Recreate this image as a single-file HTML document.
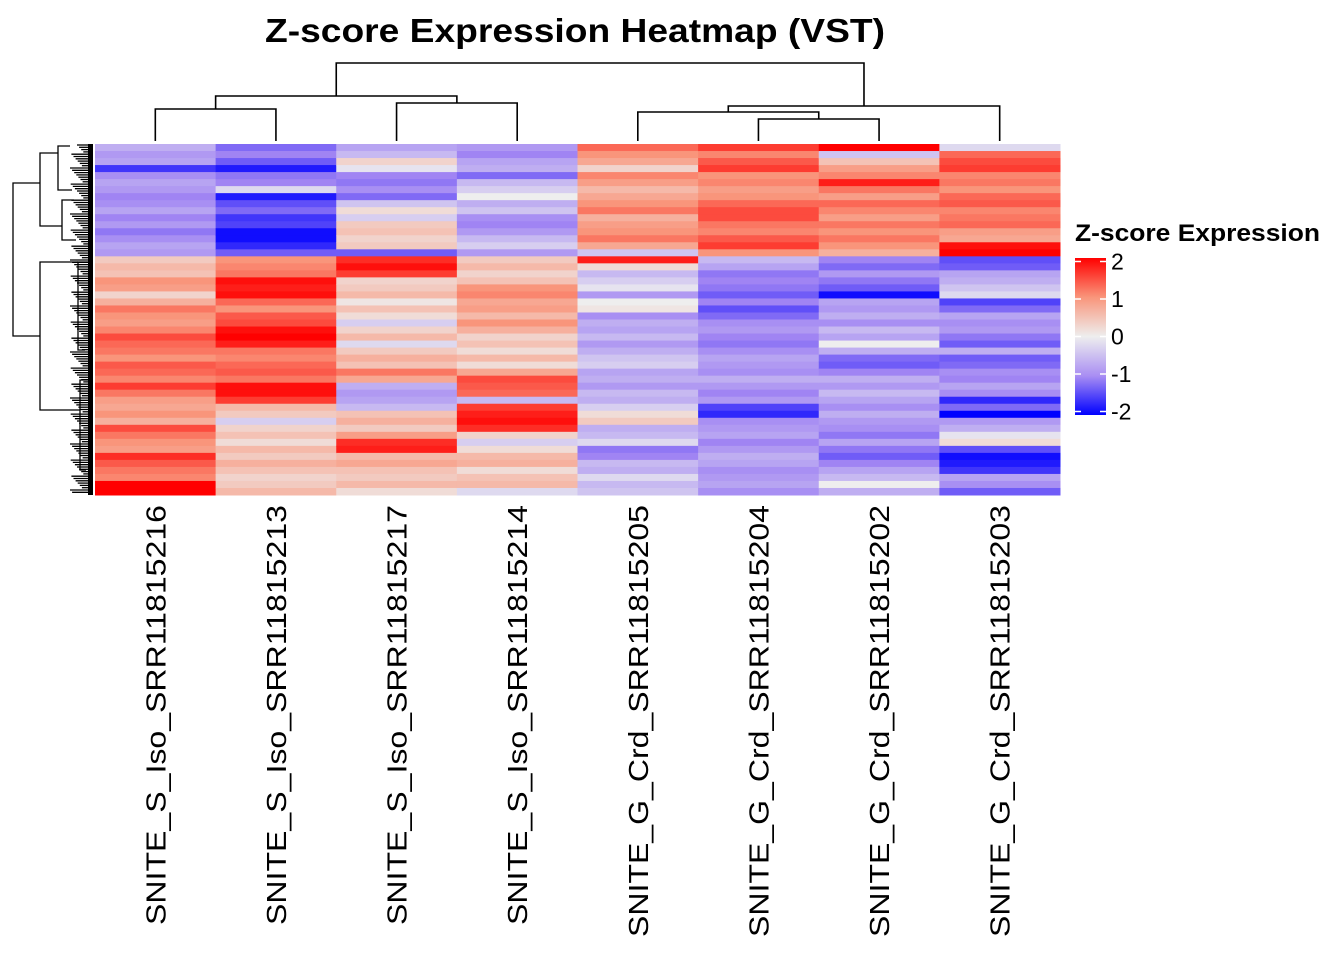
<!DOCTYPE html>
<html><head><meta charset="utf-8"><style>
body{margin:0;background:#fff;}
svg{display:block;font-family:"Liberation Sans",Arial,sans-serif;}
</style></head><body>
<svg id="chart" width="1344" height="960" viewBox="0 0 1344 960" xmlns="http://www.w3.org/2000/svg">
<defs><linearGradient id="lg" x1="0" y1="1" x2="0" y2="0">
<stop offset="0" stop-color="#0000ff"/><stop offset="0.25" stop-color="#a98ef3"/><stop offset="0.5" stop-color="#eeeeee"/><stop offset="0.75" stop-color="#f9957b"/><stop offset="1" stop-color="#ff0000"/></linearGradient></defs>
<text x="265" y="42" font-size="33" font-weight="bold" textLength="620" lengthAdjust="spacingAndGlyphs">Z-score Expression Heatmap (VST)</text>
<g id="cells"></g>
<g id="coldend" stroke="#000" stroke-width="1.6" fill="none"></g>
<g id="rowdend" stroke="#000" stroke-width="1.3" fill="none"></g>
<g id="labels"></g>
<g>
<text x="1075" y="241" font-size="24" font-weight="bold" textLength="245" lengthAdjust="spacingAndGlyphs">Z-score Expression</text>
<rect x="1075" y="258" width="31" height="157" fill="url(#lg)"/>
<g id="legticks"></g>
</g>
</svg>
<script>
const samples=["SNITE_S_Iso_SRR11815216","SNITE_S_Iso_SRR11815213","SNITE_S_Iso_SRR11815217","SNITE_S_Iso_SRR11815214","SNITE_G_Crd_SRR11815205","SNITE_G_Crd_SRR11815204","SNITE_G_Crd_SRR11815202","SNITE_G_Crd_SRR11815203"];
const col216=[-0.6,-0.8,-0.7,-1.6,-0.9,-0.7,-0.8,-1.0,-0.9,-0.7,-1.0,-0.8,-1.1,-0.9,-0.7,-0.8,0.4,0.6,0.5,1.0,0.9,0.3,0.7,1.2,1.0,0.9,1.1,1.5,1.3,1.2,1.0,1.4,1.3,1.1,1.6,1.2,0.9,0.8,1.0,0.7,1.5,1.2,1.0,0.9,1.7,1.4,1.2,1.1,2.0,2.0];
const col213=[-1.2,-1.0,-1.3,-1.8,-1.1,-1.0,-0.2,-1.8,-1.4,-1.2,-1.6,-1.5,-1.9,-1.9,-1.7,-1.3,1.0,1.1,1.2,1.9,1.8,1.9,1.3,1.0,1.4,1.5,1.9,2.0,1.8,1.2,1.1,1.3,1.4,1.2,1.9,1.9,1.6,0.6,0.4,-0.3,0.3,0.5,0.2,0.6,0.4,0.7,0.5,0.3,0.4,0.6];
const col217=[-0.7,-0.5,0.3,-0.1,-1.0,-1.1,-0.9,-1.2,-0.4,0.2,-0.3,0.4,0.5,0.3,0.4,-1.3,1.7,1.9,1.6,0.3,0.4,0.6,0.1,0.5,0.2,-0.3,0.3,0.6,-0.2,0.4,0.7,0.5,1.2,0.8,-0.6,-0.8,-0.7,-0.5,0.5,0.7,0.4,0.9,1.7,1.8,0.6,0.8,0.5,0.4,0.6,0.2];
const col214=[-0.8,-1.0,-0.7,-0.6,-1.2,-0.5,-0.3,0.0,-0.6,-0.4,-0.9,-1.0,-0.8,-0.5,-0.3,-0.8,0.4,0.6,0.3,0.5,1.0,1.1,0.8,0.9,0.6,1.0,0.7,0.3,0.5,0.2,0.6,0.2,0.8,1.5,1.4,1.3,-0.5,1.6,1.8,1.9,1.7,0.3,-0.3,0.2,0.6,0.7,0.2,0.5,0.6,-0.2];
const col205=[1.3,1.0,0.8,0.3,1.1,0.9,0.6,0.8,1.0,1.2,0.7,0.9,1.0,1.2,0.8,-0.4,1.8,0.2,-0.5,-0.3,-0.1,-0.8,0.0,0.1,-0.9,-0.6,-0.7,-0.5,-0.8,-0.6,-0.4,-0.3,-0.7,-0.6,-0.8,-0.5,-0.6,-0.3,0.2,0.4,-0.6,-0.5,-0.2,-1.1,-1.0,-0.5,-0.6,-0.2,-0.5,-0.4];
const col204=[1.6,1.1,1.4,1.6,1.0,1.1,0.9,1.0,1.3,1.5,1.5,1.2,1.1,1.4,1.6,1.0,-0.5,-0.7,-1.1,-1.0,-1.1,-1.3,-1.0,-1.4,-1.2,-0.9,-0.8,-1.0,-1.1,-0.9,-0.7,-0.8,-0.9,-0.6,-0.8,-1.0,-0.8,-1.5,-1.7,-0.9,-0.8,-0.7,-1.0,-0.8,-0.6,-0.7,-0.9,-0.8,-0.7,-0.9];
const col202=[2.0,-0.4,0.5,0.9,1.1,1.8,1.2,0.9,1.3,1.1,0.9,1.2,1.0,1.2,1.0,0.7,-1.0,-1.2,-0.8,-1.1,-1.3,-1.9,-0.7,-0.8,-0.6,-0.9,-0.5,-0.7,0.0,-0.6,-1.2,-1.3,-1.0,-0.6,-0.8,-0.5,-0.7,-0.9,-0.6,-0.8,-0.9,-1.1,-0.7,-1.1,-1.3,-1.0,-0.7,-0.5,0.0,-0.6];
const col203=[-0.2,1.3,1.5,1.6,1.1,1.2,1.0,1.3,1.4,1.1,1.2,1.3,0.9,0.8,1.9,2.0,-1.4,-1.3,-0.7,-0.6,-0.4,-0.2,-1.5,-1.2,-0.7,-0.9,-0.8,-1.1,-1.3,-0.6,-1.3,-1.2,-0.9,-1.0,-0.7,-0.9,-1.7,-1.2,-2.0,-0.8,-0.6,-0.1,0.2,-1.4,-1.9,-1.8,-1.6,-0.7,-0.9,-1.3];
const columns=[col216,col213,col217,col214,col205,col204,col202,col203];
const legendTicks=[2,1,0,-1,-2];
const NS="http://www.w3.org/2000/svg";
const X0=95,X1=1060,Y0=144,Y1=495;
const nRows=Math.max(...columns.map(c=>c.length));
const cw=(X1-X0)/samples.length, rh=(Y1-Y0)/nRows;
const xPos=i=>X0+i*cw, yPos=r=>Y0+r*rh;
const stops=[[-2,[0,0,255]],[-1,[160,132,243]],[0,[238,238,238]],[1,[249,149,123]],[2,[255,0,0]]];
function color(v){v=Math.max(-2,Math.min(2,v));for(let k=0;k<stops.length-1;k++){const a=stops[k],b=stops[k+1];if(v<=b[0]){const t=(v-a[0])/(b[0]-a[0]);return "rgb("+a[1].map((c,j)=>Math.round(c+(b[1][j]-c)*t)).join(",")+")";}}return "red";}
function mk(tag,attrs,parent){const e=document.createElementNS(NS,tag);for(const k in attrs)e.setAttribute(k,attrs[k]);parent.appendChild(e);return e;}
const cells=document.getElementById('cells');
columns.forEach((col,ci)=>{col.forEach((v,ri)=>{
const r=mk('rect',{x:xPos(ci),y:yPos(ri),width:cw+0.5,height:rh+0.5,fill:color(v)},cells);


});});
const labels=document.getElementById('labels');
samples.forEach((s,i)=>{const cx=xPos(i)+cw/2+10;
const len=s.indexOf('Crd')>=0?432:420;
const t=mk('text',{x:cx,y:505,transform:`rotate(-90 ${cx} 505)`,'text-anchor':'end','font-size':'28',textLength:len,lengthAdjust:'spacingAndGlyphs'},labels);
t.textContent=s;


});
const cd=document.getElementById('coldend');
const cx=i=>xPos(i)+cw/2;
function u(x1,x2,yTop,y1b,y2b){mk('path',{d:`M${x1},${y1b}V${yTop}H${x2}V${y2b}`},cd);}
u(cx(0),cx(1),109,141,141);
u(cx(2),cx(3),103,141,141);
const lA=(cx(0)+cx(1))/2,lB=(cx(2)+cx(3))/2;u(lA,lB,96,109,103);
u(cx(5),cx(6),119,141,141);
const r1=(cx(5)+cx(6))/2;u(cx(4),r1,112,141,119);
const r2=(cx(4)+r1)/2;u(r2,cx(7),106,112,141);
const L=(lA+lB)/2,R=(r2+cx(7))/2;u(L,R,63,96,106);
const rd=document.getElementById('rowdend');
function ru(y1,y2,xl,x1r,x2r){mk('path',{d:`M${x1r},${y1}H${xl}V${y2}H${x2r}`},rd);}
ru(183,336,13,40,40);
ru(153,226,40,58,62);ru(262,410,40,78,80);
ru(146,190,58,70,72);ru(200,240,62,74,76);
ru(262,350,78,88,85);ru(380,470,80,88,86);
for(let y=145;y<494;y+=2.3){mk('path',{d:`M${70+((y*7)%14)},${y}H92`},rd);}
mk('rect',{x:88,y:144,width:5,height:351,fill:'#000',stroke:'none'},rd);
const lt=document.getElementById('legticks');
const ly=v=>336.5-v*37.5;
legendTicks.forEach(v=>{
mk('line',{x1:1075,x2:1081,y1:ly(v),y2:ly(v),stroke:'#fff','stroke-width':1.5},lt);
mk('line',{x1:1100,x2:1106,y1:ly(v),y2:ly(v),stroke:'#fff','stroke-width':1.5},lt);
const t=mk('text',{x:1111,y:ly(v)+8,'font-size':'23'},lt);
t.textContent=v;


});
</script>
</body></html>
